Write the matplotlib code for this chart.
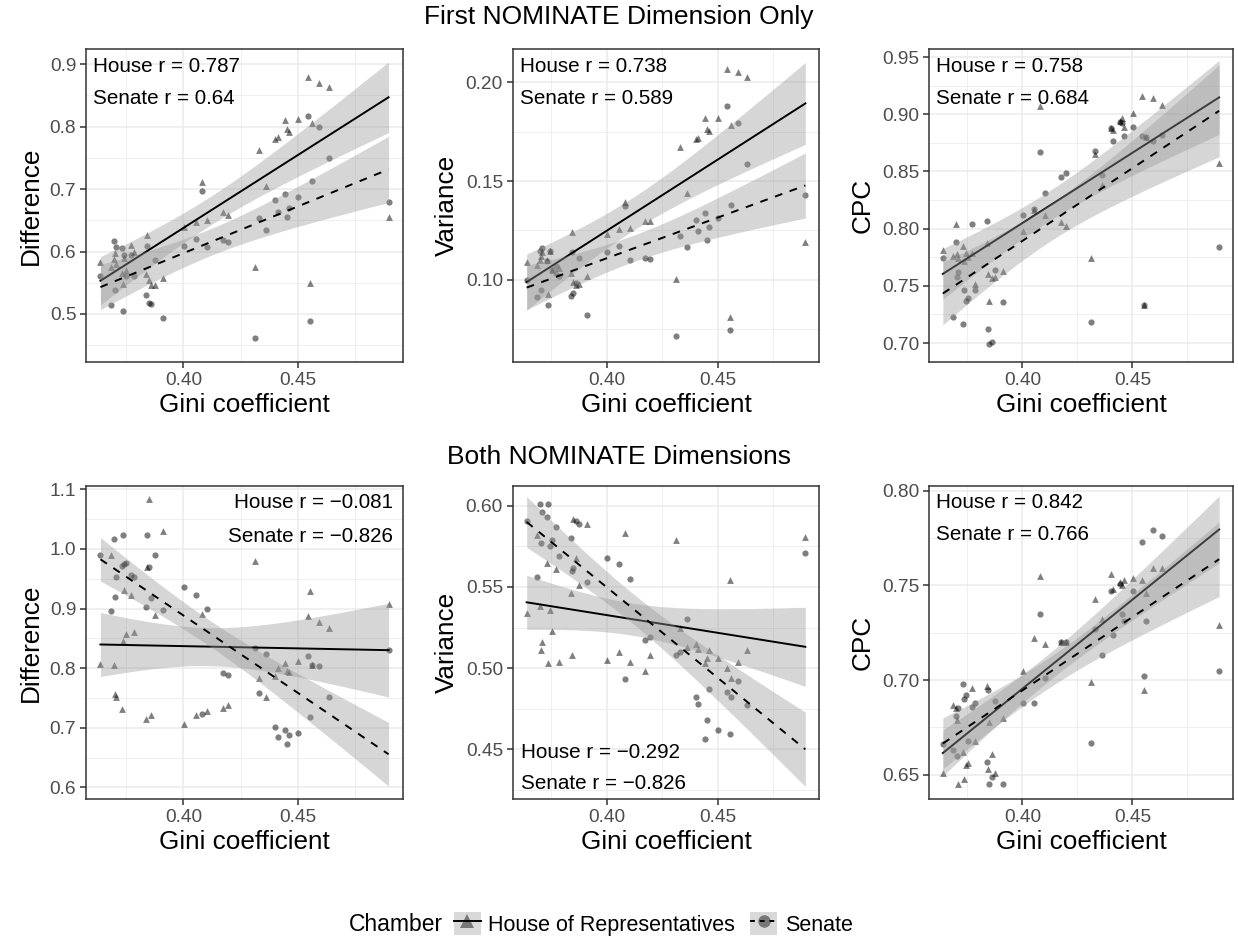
import numpy as np
import matplotlib
matplotlib.use('Agg')
import matplotlib.pyplot as plt
from matplotlib.lines import Line2D
from matplotlib.patches import Patch
from matplotlib.legend_handler import HandlerTuple

plt.rcParams['font.family'] = ['Liberation Sans', 'DejaVu Sans']

# Gini coefficient, one value per congress (shared by both chambers)
gini = [0.3638, 0.3684, 0.3699, 0.3703, 0.3707, 0.3730, 0.3736, 0.3742, 0.3751, 0.3771,
        0.3785, 0.3838, 0.3842, 0.3848, 0.3860, 0.3876, 0.3912, 0.4002, 0.4053, 0.4081,
        0.4104, 0.4174, 0.4196, 0.4312, 0.4330, 0.4361, 0.4401, 0.4412, 0.4442, 0.4453,
        0.4461, 0.4502, 0.4543, 0.4554, 0.4561, 0.4592, 0.4633, 0.4895]

# first dimension only
house_diff1 = [0.583, 0.575, 0.588, 0.598, 0.580, 0.565, 0.548, 0.590, 0.570, 0.611,
               0.600, 0.564, 0.627, 0.554, 0.546, 0.546, 0.558, 0.639, 0.648, 0.711,
               0.651, 0.663, 0.658, 0.576, 0.763, 0.705, 0.781, 0.783, 0.810, 0.797,
               0.791, 0.813, 0.879, 0.550, 0.806, 0.870, 0.863, 0.655]
senate_diff1 = [0.560, 0.515, 0.617, 0.539, 0.607, 0.606, 0.505, 0.594, 0.560, 0.594,
                0.560, 0.530, 0.609, 0.518, 0.516, 0.586, 0.494, 0.609, 0.620, 0.697,
                0.608, 0.618, 0.616, 0.462, 0.653, 0.635, 0.682, 0.664, 0.692, 0.656,
                0.670, 0.687, 0.817, 0.488, 0.713, 0.800, 0.750, 0.679]
house_var1 = [0.1088, 0.1076, 0.110, 0.112, 0.114, 0.110, 0.0929, 0.1144, 0.105, 0.104,
              0.106, 0.1034, 0.1243, 0.099, 0.0975, 0.098, 0.1017, 0.123, 0.1258, 0.1394,
              0.1264, 0.1296, 0.1296, 0.1005, 0.1672, 0.1439, 0.1713, 0.1718, 0.1819, 0.1765,
              0.1755, 0.1819, 0.2068, 0.0811, 0.1782, 0.2054, 0.2027, 0.1191]
senate_var1 = [0.100, 0.0912, 0.1144, 0.0946, 0.116, 0.1096, 0.0870, 0.1144, 0.105, 0.1068,
               0.1017, 0.0915, 0.114, 0.0932, 0.0983, 0.1108, 0.082, 0.1139, 0.1169, 0.1372,
               0.1101, 0.1108, 0.1105, 0.0713, 0.122, 0.1164, 0.130, 0.1245, 0.1338, 0.1203,
               0.1267, 0.1313, 0.188, 0.0743, 0.1377, 0.1796, 0.1584, 0.1427]
house_cpc1 = [0.781, 0.776, 0.804, 0.778, 0.774, 0.785, 0.772, 0.779, 0.775, 0.779,
              0.752, 0.787, 0.760, 0.737, 0.757, 0.758, 0.763, 0.798, 0.816, 0.907,
              0.812, 0.806, 0.802, 0.774, 0.865, 0.838, 0.888, 0.886, 0.894, 0.897,
              0.889, 0.901, 0.916, 0.733, 0.880, 0.914, 0.908, 0.857]
senate_cpc1 = [0.774, 0.723, 0.788, 0.758, 0.762, 0.717, 0.746, 0.737, 0.739, 0.804,
               0.746, 0.807, 0.712, 0.699, 0.701, 0.764, 0.736, 0.812, 0.817, 0.867,
               0.831, 0.845, 0.849, 0.718, 0.868, 0.847, 0.888, 0.877, 0.893, 0.892,
               0.881, 0.889, 0.881, 0.733, 0.880, 0.877, 0.882, 0.784]

# both dimensions
house_diff2 = [0.807, 0.989, 0.805, 0.756, 0.751, 0.732, 0.846, 0.931, 0.858, 0.923,
               0.861, 0.715, 0.969, 1.084, 0.721, 0.889, 1.030, 0.706, 0.721, 0.890,
               0.728, 0.733, 0.738, 0.980, 0.783, 0.752, 0.787, 0.800, 0.809, 0.796,
               0.794, 0.812, 0.888, 0.930, 0.806, 0.877, 0.867, 0.907]
senate_diff2 = [0.989, 0.896, 1.016, 0.920, 0.953, 0.972, 1.024, 0.975, 0.977, 0.956,
                0.953, 0.903, 1.023, 0.969, 0.917, 0.989, 0.898, 0.936, 0.922, 0.723,
                0.899, 0.792, 0.788, 0.833, 0.759, 0.823, 0.702, 0.685, 0.696, 0.673,
                0.687, 0.691, 0.821, 0.718, 0.806, 0.804, 0.751, 0.831]
house_var2 = [0.534, 0.582, 0.538, 0.511, 0.516, 0.565, 0.503, 0.536, 0.523, 0.561,
              0.504, 0.546, 0.508, 0.592, 0.568, 0.551, 0.589, 0.505, 0.510, 0.583,
              0.504, 0.498, 0.508, 0.579, 0.525, 0.513, 0.515, 0.512, 0.503, 0.506,
              0.511, 0.506, 0.500, 0.554, 0.494, 0.504, 0.511, 0.581]
senate_var2 = [0.591, 0.556, 0.601, 0.577, 0.596, 0.593, 0.601, 0.575, 0.579, 0.587,
               0.569, 0.580, 0.560, 0.562, 0.591, 0.589, 0.553, 0.568, 0.564, 0.493,
               0.555, 0.517, 0.519, 0.508, 0.510, 0.530, 0.482, 0.478, 0.456, 0.468,
               0.487, 0.462, 0.485, 0.459, 0.482, 0.492, 0.477, 0.571]
house_cpc2 = [0.651, 0.687, 0.685, 0.679, 0.645, 0.662, 0.648, 0.655, 0.656, 0.696,
              0.668, 0.697, 0.653, 0.678, 0.661, 0.651, 0.680, 0.705, 0.722, 0.755,
              0.719, 0.720, 0.720, 0.699, 0.743, 0.732, 0.756, 0.748, 0.752, 0.750,
              0.753, 0.754, 0.753, 0.695, 0.746, 0.759, 0.759, 0.729]
senate_cpc2 = [0.666, 0.663, 0.681, 0.660, 0.685, 0.698, 0.690, 0.692, 0.668, 0.686,
               0.688, 0.657, 0.695, 0.645, 0.649, 0.689, 0.645, 0.688, 0.688, 0.735,
               0.701, 0.720, 0.720, 0.667, 0.727, 0.713, 0.747, 0.724, 0.751, 0.735,
               0.731, 0.747, 0.773, 0.702, 0.731, 0.779, 0.776, 0.705]

ylabels = ['Difference', 'Variance', 'CPC', 'Difference', 'Variance', 'CPC']
house_r = ['House r = 0.787', 'House r = 0.738', 'House r = 0.758',
           'House r = \u22120.081', 'House r = \u22120.292', 'House r = 0.842']
senate_r = ['Senate r = 0.64', 'Senate r = 0.589', 'Senate r = 0.684',
            'Senate r = \u22120.826', 'Senate r = \u22120.826', 'Senate r = 0.766']
xticks = [0.40, 0.45]
yticks = [[0.5, 0.6, 0.7, 0.8, 0.9], [0.10, 0.15, 0.20], [0.70, 0.75, 0.80, 0.85, 0.90, 0.95],
          [0.6, 0.7, 0.8, 0.9, 1.0, 1.1], [0.45, 0.50, 0.55, 0.60], [0.65, 0.70, 0.75, 0.80]]
yfmt = ['%.1f', '%.2f', '%.2f', '%.1f', '%.2f', '%.2f']
ylims = [(0.423, 0.9245), (0.0583, 0.2169), (0.6834, 0.957),
         (0.5804, 1.1056), (0.4192, 0.6123), (0.6372, 0.8025)]
corner = ['tl', 'tl', 'tl', 'tr', 'bl', 'tl']

house_sets = [house_diff1, house_var1, house_cpc1, house_diff2, house_var2, house_cpc2]
senate_sets = [senate_diff1, senate_var1, senate_cpc1, senate_diff2, senate_var2, senate_cpc2]


def lm_band(x, y, grid):
    x = np.asarray(x)
    y = np.asarray(y)
    n = len(x)
    b, a = np.polyfit(x, y, 1)
    s = np.sqrt(np.sum((y - (a + b * x)) ** 2) / (n - 2))
    sxx = np.sum((x - x.mean()) ** 2)
    se = s * np.sqrt(1 / n + (grid - x.mean()) ** 2 / sxx)
    t = 2.028  # 95% two sided, df = 36
    fit = a + b * grid
    return fit, fit - t * se, fit + t * se


fig = plt.figure(figsize=(12.38, 9.38), dpi=100)

lefts = [86, 512.7, 929]
rights = [403, 819.3, 1233]
tops = [49, 486]
ph = 313
W, H = 1238, 938

grid = np.linspace(min(gini), max(gini), 100)
dash = (0, (4, 4))

for k in range(6):
    r, c = divmod(k, 3)
    ax = fig.add_axes([lefts[c] / W, 1 - (tops[r] + ph) / H, (rights[c] - lefts[c]) / W, ph / H])

    ax.scatter(gini, house_sets[k], marker='^', s=24, color='black', alpha=0.5, lw=0, zorder=2)
    ax.scatter(gini, senate_sets[k], marker='o', s=20, color='black', alpha=0.5, lw=0, zorder=2)

    # House band + line first, Senate band drawn over it
    for i, (ys, ls) in enumerate([(house_sets[k], '-'), (senate_sets[k], dash)]):
        fit, lo, hi = lm_band(gini, ys, grid)
        ax.fill_between(grid, lo, hi, color='#999999', alpha=0.4, lw=0, zorder=3 + 2 * i)
        ax.plot(grid, fit, color='black', lw=1.4, linestyle=ls, zorder=4 + 2 * i)

    ax.set_xlim(0.3575, 0.4958)
    ax.set_ylim(*ylims[k])
    ax.set_xticks(xticks)
    ax.set_xticklabels(['%.2f' % v for v in xticks])
    ax.set_xticks([0.375, 0.425, 0.475], minor=True)
    yt = yticks[k]
    ax.set_yticks(yt)
    ax.set_yticklabels([yfmt[k] % v for v in yt])
    step = yt[1] - yt[0]
    ymin = np.arange(yt[0] - step / 2, yt[-1] + step, step)
    ax.set_yticks([v for v in ymin if ylims[k][0] < v < ylims[k][1]], minor=True)

    ax.grid(which='major', color='#EBEBEB', lw=1.1, zorder=0)
    ax.grid(which='minor', color='#EBEBEB', lw=0.55, zorder=0)
    ax.set_axisbelow(True)
    for sp in ax.spines.values():
        sp.set_color('#333333')
        sp.set_linewidth(1.1)
    ax.tick_params(which='major', length=4, width=1.1, color='#333333',
                   labelcolor='#4D4D4D', labelsize=13.8, pad=3)
    ax.tick_params(which='minor', length=0)

    ax.set_xlabel('Gini coefficient', fontsize=18.8, labelpad=3)
    ax.set_ylabel(ylabels[k], fontsize=18.8, labelpad=5)

    if corner[k] == 'tl':
        xy, o1, o2, ha = (0, 1), (7, -17), (7, -49), 'left'
    elif corner[k] == 'tr':
        xy, o1, o2, ha = (1, 1), (-10, -17), (-10, -50), 'right'
    else:
        xy, o1, o2, ha = (0, 0), (8, 47), (8, 16), 'left'
    ax.annotate(house_r[k], xy=xy, xycoords='axes fraction', xytext=o1,
                textcoords='offset pixels', ha=ha, va='center', fontsize=14.9, zorder=10)
    ax.annotate(senate_r[k], xy=xy, xycoords='axes fraction', xytext=o2,
                textcoords='offset pixels', ha=ha, va='center', fontsize=14.9, zorder=10)

fig.text(0.5, 1 - 17 / H, 'First NOMINATE Dimension Only', ha='center', va='center', fontsize=19)
fig.text(0.5, 1 - 457 / H, 'Both NOMINATE Dimensions', ha='center', va='center', fontsize=19)

# legend at the bottom
key_bg = '#D9D9D9'
h_house = (Patch(facecolor=key_bg, edgecolor='none'),
           Line2D([], [], marker='^', ls='none', color='black', alpha=0.45, markersize=10, markeredgewidth=0),
           Line2D([], [], color='black', lw=1.4))
h_senate = (Patch(facecolor=key_bg, edgecolor='none'),
            Line2D([], [], marker='o', ls='none', color='black', alpha=0.45, markersize=9, markeredgewidth=0),
            Line2D([], [], color='black', lw=1.4, linestyle=(0, (2.5, 2.5))))
leg_y = 1 - 924 / H
fig.text(443 / W, leg_y, 'Chamber', ha='right', va='center', fontsize=16.5)
fig.legend([h_house, h_senate], ['House of Representatives', 'Senate'], ncol=2,
           loc='center left', bbox_to_anchor=(454 / W, leg_y), frameon=False, fontsize=15.5,
           handler_map={tuple: HandlerTuple(ndivide=1, pad=0)},
           handlelength=1.25, handleheight=1.25, handletextpad=0.35, columnspacing=0.7,
           borderaxespad=0, borderpad=0)

fig.savefig('out.png', dpi=100)
